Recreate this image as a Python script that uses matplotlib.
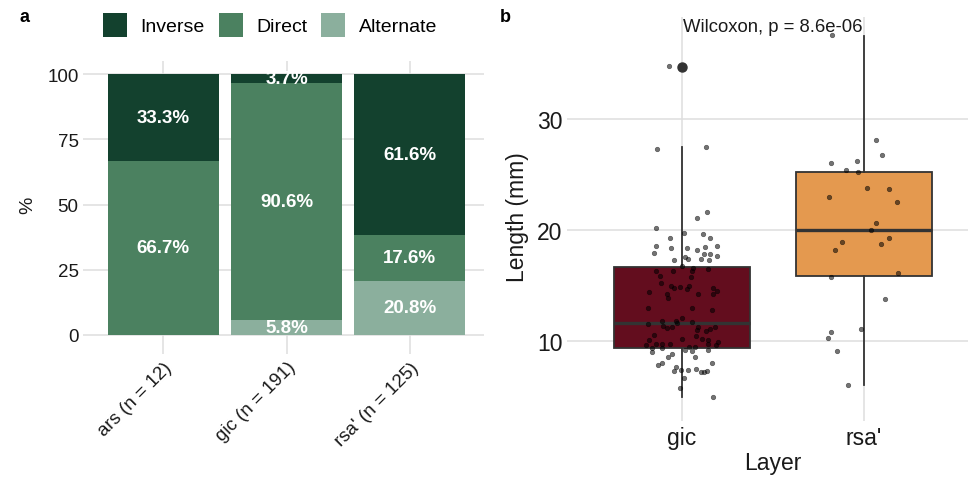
import matplotlib
matplotlib.use("Agg")
import matplotlib.pyplot as plt
from matplotlib.patches import Patch
import numpy as np

plt.rcParams['font.family'] = ['Liberation Sans', 'DejaVu Sans']

# ---------------- data: panel a ----------------
groups_a = ["ars (n = 12)", "gic (n = 191)", "rsa' (n = 125)"]
inverse = [33.3, 3.7, 61.6]
direct = [66.7, 90.6, 17.6]
alternate = [0.0, 5.8, 20.8]
type_names = ["Inverse", "Direct", "Alternate"]
type_colors = ["#13412E", "#4B8160", "#8BAF9D"]

# ---------------- data: panel b ----------------
layers = ["gic", "rsa'"]
layer_colors = ["#630D1E", "#E4994F"]
# box statistics
box_q1 = [9.4, 15.9]
box_med = [11.65, 20.0]
box_q3 = [16.7, 25.2]
box_lo = [5.0, 6.0]
box_hi = [27.5, 37.5]
box_fliers = [[34.7], []]

gic_len = [34.75, 27.3, 27.5, 21.65, 21.1, 20.2, 19.7, 19.3, 19.6, 19.3, 18.6, 18.4, 18.4,
           18.5, 18.6, 17.9, 18.2, 17.8, 17.8, 17.7, 17.6, 17.4, 17.3, 17.4, 17.3, 16.8,
           16.6, 16.5, 16.3, 16.3, 16.3, 15.85, 15.8, 15.25, 15.0, 14.8, 14.9, 15.0, 14.65,
           14.75, 14.5, 14.2, 14.4, 14.2, 13.9, 14.2, 13.0, 12.95, 12.8, 12.1, 11.5, 11.8,
           11.35, 11.2, 11.3, 11.8, 11.6, 11.7, 11.3, 11.0, 10.9, 11.1, 11.3, 10.5, 10.1,
           10.15, 10.45, 10.2, 10.1, 9.6, 9.4, 9.7, 9.7, 9.75, 9.35, 9.5, 9.45, 9.7, 9.6,
           9.9, 9.2, 9.0, 8.85, 9.2, 9.1, 8.6, 8.6, 8.05, 7.85, 7.7, 7.4, 7.3, 7.4, 7.5,
           7.2, 7.2, 7.3, 8.0, 6.7, 5.75, 4.95]
gic_jit = [-0.073, -0.138, 0.129, 0.138, 0.081, -0.145, 0.01, -0.066, 0.114, 0.153, -0.142,
           -0.062, 0.029, 0.127, 0.19, -0.155, 0.081, 0.156, 0.118, 0.19, 0.017, 0.033,
           -0.044, 0.105, 0.147, 0.0, 0.059, 0.14, -0.144, -0.048, 0.055, -0.123, 0.048,
           -0.116, -0.061, -0.044, -0.011, 0.04, 0.029, 0.171, 0.193, 0.171, -0.18, -0.085,
           -0.079, 0.09, -0.19, 0.053, 0.166, 0.0, -0.19, -0.109, -0.105, -0.085, -0.057,
           -0.033, -0.026, 0.053, 0.087, 0.083, 0.129, 0.156, 0.182, -0.155, -0.184, 0.0,
           0.079, 0.11, 0.144, -0.199, -0.167, -0.144, -0.112, -0.068, -0.11, 0.04, 0.07,
           0.144, 0.184, 0.195, 0.14, -0.164, -0.054, 0.015, 0.053, -0.077, 0.072, -0.109,
           -0.134, -0.035, -0.006, -0.044, 0.031, 0.079, 0.105, 0.12, 0.138, 0.166, 0.01,
           -0.009, 0.17]
rsa_len = [37.57, 28.1, 26.8, 26.0, 26.2, 25.4, 25.2, 23.8, 23.7, 23.0, 22.5, 20.6, 20.0,
           18.9, 19.3, 18.7, 18.2, 15.8, 16.1, 13.8, 11.1, 10.8, 10.3, 9.1, 6.0]
rsa_jit = [-0.175, 0.068, 0.10, -0.18, -0.037, -0.10, -0.03, 0.015, 0.136, -0.19, 0.18,
           0.066, 0.04, -0.12, 0.136, 0.094, -0.16, -0.18, 0.19, 0.114, -0.017, -0.18,
           -0.195, -0.146, -0.09]
test_label = "Wilcoxon, p = 8.6e-06"

W, H = 968, 481
fig = plt.figure(figsize=(W / 100, H / 100), dpi=100)

GRID = "#DEDEDE"
TXT = "#1A1A1A"


def style_axes(ax, fs):
    for s in ax.spines.values():
        s.set_visible(False)
    ax.grid(True, color=GRID, linewidth=1.1)
    ax.set_axisbelow(True)
    ax.tick_params(colors=GRID, labelcolor=TXT, length=4.5, width=1.1, labelsize=fs, pad=3)


# ---------------- panel a ----------------
axa = fig.add_axes([89 / W, 1 - 349 / H, 395 / W, 287 / H])
style_axes(axa, 13.5)
x = np.arange(len(groups_a))
bottom = np.zeros(len(groups_a))
stack = [(alternate, 2), (direct, 1), (inverse, 0)]
for vals, k in stack:
    vals = np.array(vals)
    axa.bar(x, vals, width=0.9, bottom=bottom, color=type_colors[k], zorder=2)
    for xi, b, v in zip(x, bottom, vals):
        if v > 0:
            axa.text(xi, b + v / 2, f"{v:.1f}%", ha="center", va="center", color="white",
                     fontsize=13.5, fontweight="bold", zorder=3)
    bottom = bottom + vals
axa.set_xlim(-0.6, len(groups_a) - 0.4)
axa.set_ylim(-5, 105)
axa.set_yticks([0, 25, 50, 75, 100])
axa.set_xticks(x)
axa.set_xticklabels(groups_a, rotation=45, ha="right", va="top", rotation_mode="anchor")
axa.set_ylabel("%", fontsize=14, color=TXT, labelpad=8)

handles = [Patch(facecolor=type_colors[i], edgecolor="none", label=type_names[i]) for i in range(3)]
fig.legend(handles=handles, loc="center", bbox_to_anchor=(270 / W, 1 - 26 / H), ncol=3,
           frameon=False, fontsize=14, handlelength=1.24, handleheight=1.5,
           handletextpad=0.7, columnspacing=0.7, borderaxespad=0)

# ---------------- panel b ----------------
axb = fig.add_axes([573 / W, 1 - 416.2 / H, 400 / W, 398.3 / H])
style_axes(axb, 16.5)
stats = []
for i in range(len(layers)):
    stats.append(dict(med=box_med[i], q1=box_q1[i], q3=box_q3[i], whislo=box_lo[i],
                      whishi=box_hi[i], fliers=box_fliers[i]))
bp = axb.bxp(stats, positions=[1, 2], widths=0.75, patch_artist=True, showcaps=False,
             boxprops=dict(edgecolor="#333333", linewidth=1.3),
             medianprops=dict(color="#333333", linewidth=2.4),
             whiskerprops=dict(color="#333333", linewidth=1.3),
             flierprops=dict(marker="o", markerfacecolor="#333333", markeredgecolor="#333333",
                             markersize=6.5), zorder=2)
for patch, c in zip(bp["boxes"], layer_colors):
    patch.set_facecolor(c)

for pos, (lens, jit) in enumerate([(gic_len, gic_jit), (rsa_len, rsa_jit)], start=1):
    axb.scatter(pos + np.array(jit), lens, s=11, color="black", alpha=0.55,
                linewidths=0.4, edgecolors="black", zorder=4)

all_vals = gic_len + rsa_len + box_lo + box_hi
lo, hi = min(all_vals), max(all_vals)
pad = 0.05 * (hi - lo)
axb.set_ylim(lo - pad, hi + pad)
axb.set_xlim(0.4, 2.6)
axb.set_yticks([10, 20, 30])
axb.set_xticks([1, 2])
axb.set_xticklabels(layers)
axb.set_xlabel("Layer", fontsize=16.5, color=TXT, labelpad=2)
axb.set_ylabel("Length (mm)", fontsize=16.5, color=TXT, labelpad=6)
axb.text(1.5, 37.95, test_label, ha="center", va="baseline", fontsize=13.3, color=TXT, zorder=5)

fig.text(20 / W, 1 - 18 / H, "a", fontsize=13, fontweight="bold", ha="left", va="center")
fig.text(500 / W, 1 - 18 / H, "b", fontsize=13, fontweight="bold", ha="left", va="center")

fig.savefig("out.png", dpi=100)
